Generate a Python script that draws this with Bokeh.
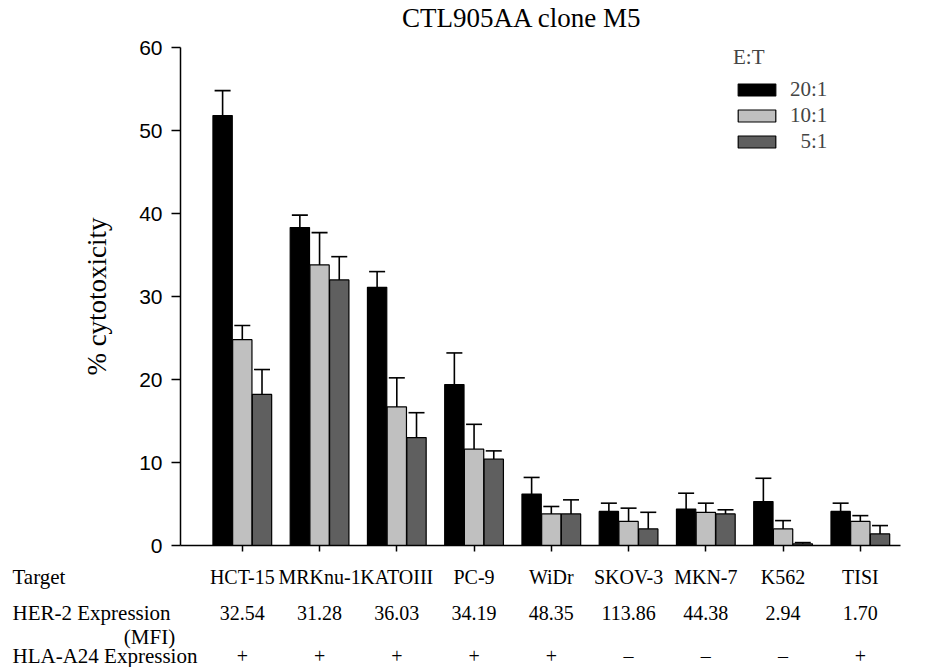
from bokeh.plotting import figure
from bokeh.models import (Range1d, FixedTicker, Whisker, ColumnDataSource, Legend,
                          LegendItem, TeeHead)
from bokeh.embed import file_html
from bokeh.resources import INLINE
from bokeh.core.properties import value

# ---------------- data ----------------
targets = ["HCT-15", "MRKnu-1", "KATOIII", "PC-9", "WiDr", "SKOV-3", "MKN-7", "K562", "TISI"]
her2_mfi = ["32.54", "31.28", "36.03", "34.19", "48.35", "113.86", "44.38", "2.94", "1.70"]
hla_a24 = ["+", "+", "+", "+", "+", "\u2013", "\u2013", "\u2013", "+"]
ratios = ["20:1", "10:1", "\u20075:1"]
cyto_20 = [51.8, 38.3, 31.1, 19.4, 6.2, 4.1, 4.4, 5.3, 4.1]
err_20 = [3.0, 1.5, 1.9, 3.8, 2.0, 1.0, 1.9, 2.8, 1.0]
cyto_10 = [24.8, 33.8, 16.7, 11.6, 3.8, 2.9, 4.0, 2.0, 2.9]
err_10 = [1.7, 3.9, 3.5, 3.0, 0.9, 1.6, 1.1, 1.0, 0.7]
cyto_5 = [18.2, 32.0, 13.0, 10.4, 3.8, 2.0, 3.8, 0.2, 1.4]
err_5 = [3.0, 2.8, 3.0, 1.0, 1.7, 2.0, 0.5, 0.15, 1.0]
y_ticks = [0, 10, 20, 30, 40, 50, 60]
row_headers = ["Target", "HER-2 Expression", "(MFI)", "HLA-A24 Expression"]
title_text = "CTL905AA clone M5"

# ---------------- layout (page pixels) ----------------
SERIF = "Liberation Serif"
SANS = "Liberation Sans"
W, H = 926, 667
AX_L, AX_R, AX_T, AX_B = 180, 900, 47, 545      # plotting area of the original chart
X_START, X_END = -0.8, 8.52
Y_MIN, Y_MAX = 0, 60
ppx = (AX_R - AX_L) / (X_END - X_START)
ppy = (AX_B - AX_T) / (Y_MAX - Y_MIN)


def px2x(px):
    return X_START + (px - AX_L) / ppx


def py2y(py):
    return Y_MIN + (AX_B - py) / ppy


p = figure(width=W, height=H, output_backend="svg", toolbar_location=None,
           x_range=Range1d(px2x(0), px2x(W)), y_range=Range1d(py2y(H), py2y(0)),
           min_border_left=0, min_border_right=0, min_border_top=0,
           min_border_bottom=0, title=None)
p.outline_line_color = None
p.xgrid.visible = False
p.ygrid.visible = False
p.background_fill_color = "white"
p.border_fill_color = "white"

xs = list(range(len(targets)))
offsets = [-0.255, 0.0, 0.255]
bar_w = 0.25
fills = ["#000000", "#c0c0c0", "#5f5f5f"]
series = [(cyto_20, err_20), (cyto_10, err_10), (cyto_5, err_5)]

renderers = []
for (vals, errs), off, col in zip(series, offsets, fills):
    src = ColumnDataSource(dict(x=[x + off for x in xs], top=vals,
                                upper=[v + e for v, e in zip(vals, errs)]))
    r = p.vbar(x="x", top="top", width=bar_w, bottom=0, source=src,
               fill_color=col, line_color="black", line_width=1.2)
    renderers.append(r)
    w = Whisker(base="x", lower="top", upper="upper", source=src, dimension="height",
                line_color="black", line_width=1.6,
                upper_head=TeeHead(size=16, line_width=1.6, line_color="black"),
                lower_head=None)
    p.add_layout(w)

# axes (kept in their panels but drawn at fixed positions)
p.yaxis.fixed_location = X_START
p.yaxis.bounds = (Y_MIN, Y_MAX)
p.yaxis.ticker = FixedTicker(ticks=y_ticks)
p.yaxis.minor_tick_line_color = None
p.yaxis.major_tick_in = 0
p.yaxis.major_tick_out = 9
p.yaxis.major_tick_line_width = 1.5
p.yaxis.axis_line_width = 1.5
p.yaxis.major_label_text_font = SANS
p.yaxis.major_label_text_font_size = "21px"
p.yaxis.major_label_text_color = "black"
p.yaxis.major_label_standoff = 9
p.yaxis.axis_label = "% cytotoxicity"
p.yaxis.axis_label_text_font = SERIF
p.yaxis.axis_label_text_font_size = "27px"
p.yaxis.axis_label_text_font_style = "normal"
p.yaxis.axis_label_text_color = "black"
p.yaxis.axis_label_standoff = 24

p.xaxis.fixed_location = Y_MIN
p.xaxis.bounds = (X_START, X_END)
p.xaxis.ticker = FixedTicker(ticks=xs)
p.xaxis.minor_tick_line_color = None
p.xaxis.major_tick_in = 0
p.xaxis.major_tick_out = 6
p.xaxis.major_tick_line_width = 1.5
p.xaxis.axis_line_width = 1.5
p.xaxis.major_label_overrides = {x: "" for x in xs}
p.xaxis.major_label_text_font_size = "1px"

# title
p.text(x=[px2x(521.5)], y=[py2y(17)], text=[title_text],
       text_font=value(SERIF), text_font_size="27px", text_color="black",
       text_align="center", text_baseline="middle")

# legend (location = bottom-left corner, measured from the frame's bottom-left)
legend = Legend(items=[LegendItem(label=lab, renderers=[r]) for lab, r in zip(ratios, renderers)],
                title="E:T", location=(733, H - 154),
                title_text_font=SERIF, title_text_font_size="21px",
                title_text_font_style="normal", title_standoff=7,
                label_text_font=SERIF, label_text_font_size="21px",
                glyph_width=47, glyph_height=15, label_height=15,
                label_standoff=10, spacing=1, padding=0, margin=0,
                border_line_color=None, background_fill_alpha=0)
p.add_layout(legend)

# ---------------- lower table ----------------
row_y = [py2y(576), py2y(612), py2y(636), py2y(655)]
common = dict(text_font=value(SERIF), text_font_size="20px", text_color="black",
              text_baseline="middle")
head = dict(common, text_font_size="21px")
p.text(x=[px2x(12)] * 3, y=[row_y[0], row_y[1], row_y[3]],
       text=[row_headers[0], row_headers[1], row_headers[3]], text_align="left", **head)
p.text(x=[px2x(149)], y=[row_y[2]], text=[row_headers[2]], text_align="center", **head)
p.text(x=xs, y=[row_y[0]] * len(xs), text=targets, text_align="center", **common)
p.text(x=xs, y=[row_y[1]] * len(xs), text=her2_mfi, text_align="center", **common)
p.text(x=xs, y=[row_y[3]] * len(xs), text=hla_a24, text_align="center", **common)

open("out.html", "w").write(file_html(p, INLINE))
